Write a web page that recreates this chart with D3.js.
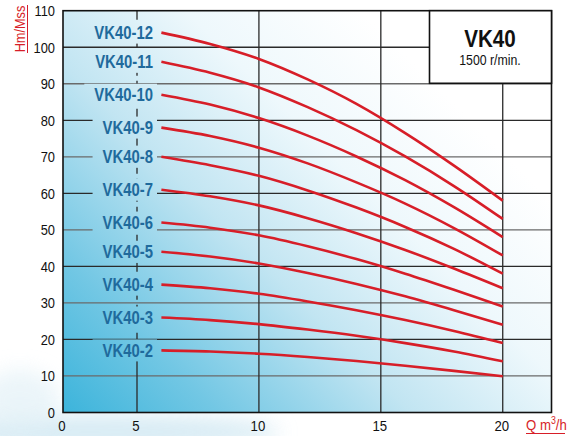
<!DOCTYPE html>
<html><head><meta charset="utf-8">
<script src="https://cdn.jsdelivr.net/npm/d3@7"></script>
<style>body{margin:0;background:#fff}svg{display:block}</style>
</head><body><svg id="c" width="571" height="436"></svg>
<script>
// ---- data ----
const flow = [6, 8, 10, 12, 14, 16, 18, 20];           // Q m3/h
const models = ["VK40-12","VK40-11","VK40-10","VK40-9","VK40-8","VK40-7","VK40-6","VK40-5","VK40-4","VK40-3","VK40-2"];
const head12 = [104, 100.9, 96.8, 91.2, 84.5, 76.5, 67.6, 58];
const head11 = [96, 93, 89, 83.6, 77.3, 70.1, 62, 53];
const head10 = [87, 84.3, 80.6, 75.8, 70.1, 63.6, 56.2, 48];
const head9  = [78, 75.7, 72.5, 68.2, 63, 57.2, 50.5, 43];
const head8  = [70, 67.7, 64.8, 60.8, 56.1, 50.8, 44.8, 38];
const head7  = [61, 59.2, 56.7, 53.2, 49.1, 44.5, 39.4, 34];
const head6  = [52, 50.6, 48.5, 45.5, 42, 38, 33.6, 29];
const head5  = [44, 42.7, 40.8, 38.2, 35.2, 31.8, 28, 24];
const head4  = [35, 34, 32.5, 30.4, 28, 25.3, 22.3, 19];
const head3  = [26, 25.3, 24.2, 22.7, 21, 19, 16.7, 14];
const head2  = [17, 16.7, 16.1, 15.2, 14.1, 12.8, 11.4, 9.9];
const heads = [head12, head11, head10, head9, head8, head7, head6, head5, head4, head3, head2];
const yTicks = [0,10,20,30,40,50,60,70,80,90,100,110];
const xTicks = [0,5,10,15,20];
const title = "VK40", subtitle = "1500 r/min.";
const yTitle = "Hm/Mss";

// ---- layout ----
const svg = d3.select("#c");
const L = 63, R = 551.5, T = 10.7, B = 412.5;
const x = d3.scaleLinear().domain([0, 5, 22]).range([L, 137, R]);
const y = d3.scaleLinear().domain([0, 110]).range([B, T]);
const red = "#d71e28", blue = "#1f6a9c";
const font = "Liberation Sans, Arial, sans-serif";

const defs = svg.append("defs");
const g = defs.append("linearGradient").attr("id","bg").attr("gradientUnits","userSpaceOnUse")
  .attr("x1", L).attr("y1", B).attr("x2", L + 350).attr("y2", B - 350);
[[0,"#3cb4db"],[0.22,"#72c7e4"],[0.5,"#c2e5f2"],[0.75,"#eef8fc"],[1,"#ffffff"]]
  .forEach(([o,c]) => g.append("stop").attr("offset", o).attr("stop-color", c));
defs.append("filter").attr("id","blur").attr("x","-50%").attr("y","-50%").attr("width","200%").attr("height","200%")
  .append("feGaussianBlur").attr("stdDeviation", 10);

// cloud below the chart
svg.append("ellipse").attr("cx", 90).attr("cy", 432).attr("rx", 190).attr("ry", 18)
  .attr("fill", "#cfe7f2").attr("opacity", 0.8).attr("filter","url(#blur)");
svg.append("ellipse").attr("cx", 20).attr("cy", 400).attr("rx", 40).attr("ry", 30)
  .attr("fill", "#e3f1f7").attr("opacity", 0.7).attr("filter","url(#blur)");

// plot background
svg.append("rect").attr("x", L).attr("y", T).attr("width", R - L).attr("height", B - T).attr("fill", "url(#bg)");

// grid
const grid = svg.append("g");
grid.selectAll("line.h").data(yTicks.filter(d => d > 0 && d < 110)).join("line")
  .attr("x1", L).attr("x2", R).attr("y1", d => y(d)).attr("y2", d => y(d))
  .attr("stroke", (d,i) => i % 2 ? "#2a2a2a" : "#6a6a6a").attr("stroke-width", 1.3);
grid.selectAll("line.v").data(xTicks.filter(d => d > 5)).join("line")
  .attr("x1", d => x(d)).attr("x2", d => x(d)).attr("y1", T).attr("y2", B)
  .attr("stroke", "#2a2a2a").attr("stroke-width", 1.3);
grid.append("line").attr("x1", x(5)).attr("x2", x(5)).attr("y1", T).attr("y2", y(20))
  .attr("stroke", "#2a2a2a").attr("stroke-width", 1.3).attr("stroke-dasharray", "9,5");
grid.append("line").attr("x1", x(5)).attr("x2", x(5)).attr("y1", y(20)).attr("y2", B)
  .attr("stroke", "#2a2a2a").attr("stroke-width", 1.3);

// curve labels with knockout halos
const sx = 0.85;
const halos = svg.append("g");
const labG = svg.append("g");
models.forEach((m, i) => {
  const cy = y(heads[i][0]);
  const t = labG.append("text").attr("transform", `translate(153,${cy + 6.2}) scale(${sx},1)`)
    .attr("text-anchor", "end").attr("font-family", font).attr("font-weight", "bold")
    .attr("font-size", 17.5).attr("fill", blue).text(m);
  const w = t.node().getBBox().width * sx;
  halos.append("rect").attr("x", 153 - w - 10).attr("y", cy - 11).attr("width", w + 14).attr("height", 22)
    .attr("fill", "url(#bg)");
});

// curves
const line = d3.line().x((d,i) => x(flow[i])).y(d => y(d)).curve(d3.curveMonotoneX);
svg.append("g").selectAll("path").data(heads).join("path")
  .attr("d", line).attr("fill", "none").attr("stroke", red).attr("stroke-width", 2.6);

// frame
svg.append("rect").attr("x", L).attr("y", T).attr("width", R - L).attr("height", B - T)
  .attr("fill", "none").attr("stroke", "#111").attr("stroke-width", 1.6);

// title box
const bx = 429.5, by = T, bw = R - 429.5, bh = 83.3 - T;
svg.append("rect").attr("x", bx).attr("y", by).attr("width", bw).attr("height", bh)
  .attr("fill", "#fff").attr("stroke", "#111").attr("stroke-width", 1.6);
svg.append("text").attr("transform", `translate(${bx + bw/2 - 0.5},46.7) scale(0.86,1)`).attr("text-anchor", "middle")
  .attr("font-family", font).attr("font-weight", "bold").attr("font-size", 24)
  .attr("fill", "#111").text(title);
svg.append("text").attr("transform", `translate(${bx + bw/2 - 0.5},65) scale(0.88,1)`).attr("text-anchor", "middle")
  .attr("font-family", font).attr("font-size", 14)
  .attr("fill", "#111").text(subtitle);

// tick labels
svg.append("g").selectAll("text").data(yTicks).join("text")
  .attr("transform", d => `translate(55,${y(d) + 5.3}) scale(0.86,1)`).attr("text-anchor", "end")
  .attr("font-family", font).attr("font-size", 15).attr("fill", "#111").text(d => d);
svg.append("g").selectAll("text").data(xTicks).join("text")
  .attr("transform", d => `translate(${x(d) - 1},431) scale(0.88,1)`).attr("text-anchor", "middle")
  .attr("font-family", font).attr("font-size", 15).attr("fill", "#111").text(d => d);

// axis titles
svg.append("text").attr("transform", "translate(24.5,29) rotate(-90) scale(0.88,1)").attr("text-anchor", "middle")
  .attr("font-family", font).attr("font-size", 14.5).attr("fill", red).text(yTitle);
svg.append("line").attr("x1", 27.5).attr("x2", 27.5).attr("y1", 5).attr("y2", 53).attr("stroke", red).attr("stroke-width", 1);
const xt = svg.append("text").attr("transform", "translate(526,430) scale(0.88,1)")
  .attr("font-family", font).attr("font-size", 15).attr("fill", red);
xt.append("tspan").text("Q m");
xt.append("tspan").attr("font-size", 10).attr("dy", -6).text("3");
xt.append("tspan").attr("dy", 6).text("/h");
svg.append("line").attr("x1", 526).attr("x2", 565).attr("y1", 433.5).attr("y2", 433.5).attr("stroke", red).attr("stroke-width", 1);
</script></body></html>
